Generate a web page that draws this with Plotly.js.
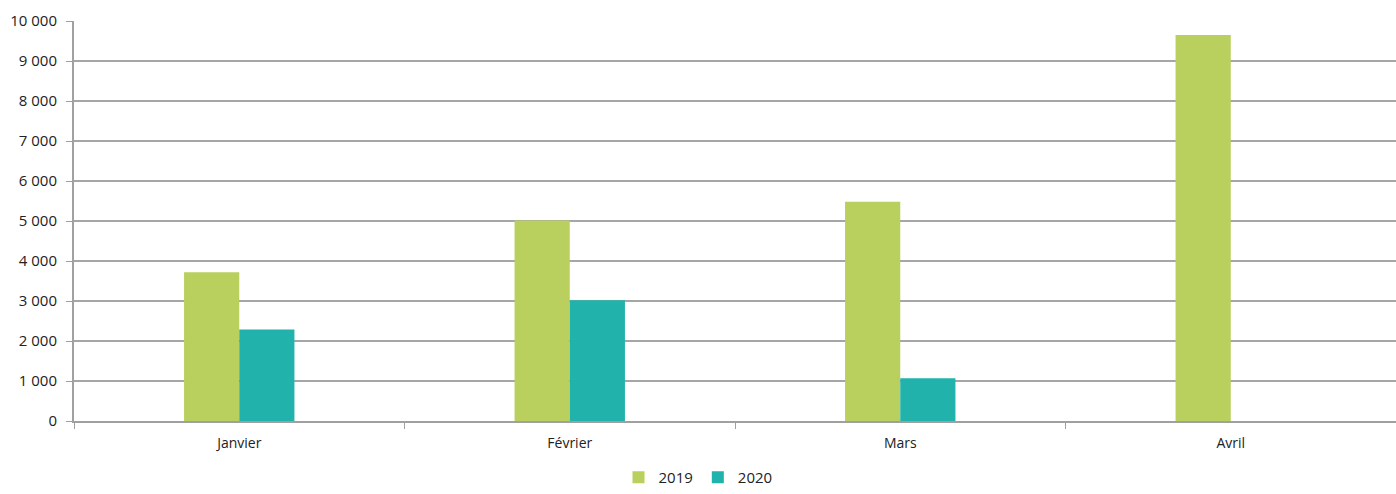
<!DOCTYPE html>
<html>
<head>
<meta charset="utf-8">
<script src="https://cdn.plot.ly/plotly-3.0.1.min.js"></script>
<style>html,body{margin:0;padding:0;background:#fff;}#chart{width:1396px;height:494px;}</style>
</head>
<body>
<div id="chart"></div>
<script>
const categories = ["Janvier", "Février", "Mars", "Avril"];
const values2019 = [3720, 5010, 5480, 9650];
const values2020 = [2290, 3020, 1070, null];
const seriesNames = ["2019", "2020"];
const yTickVals = [0, 1000, 2000, 3000, 4000, 5000, 6000, 7000, 8000, 9000, 10000];
const yTickText = ["0", "1 000", "2 000", "3 000", "4 000", "5 000", "6 000", "7 000", "8 000", "9 000", "10 000"];

const traces = [
  {type: "bar", name: seriesNames[0], x: categories, y: values2019, marker: {color: "#b9cf5e"}},
  {type: "bar", name: seriesNames[1], x: categories, y: values2020, marker: {color: "#22b2ac"}}
];

const layout = {
  width: 1396, height: 494,
  margin: {l: 74, r: 0, t: 21, b: 73},
  paper_bgcolor: "#fff", plot_bgcolor: "#fff",
  barmode: "group",
  bargap: 0.666,
  bargroupgap: 0,
  font: {family: "Open Sans, Liberation Sans, sans-serif", size: 14, color: "#222"},
  xaxis: {
    type: "category",
    showline: true, linecolor: "#a0a0a0", linewidth: 2,
    ticks: "outside", tickson: "boundaries", ticklen: 6, tickcolor: "#a0a0a0", tickwidth: 1,
    showgrid: false, zeroline: false,
    ticklabelstandoff: 8,
    tickfont: {size: 14, color: "#222"}
  },
  yaxis: {
    range: [0, 10000],
    tickvals: yTickVals, ticktext: yTickText,
    showline: true, linecolor: "#a0a0a0", linewidth: 2,
    ticks: "outside", ticklen: 6, tickcolor: "#a0a0a0", tickwidth: 1,
    showgrid: true, gridcolor: "#a6a6a6", gridwidth: 2,
    zeroline: false,
    ticklabelstandoff: 6,
    tickfont: {size: 15, color: "#222"}
  },
  showlegend: true,
  legend: {
    orientation: "h", x: 0.5, xanchor: "center", xref: "container",
    y: 0.0, yanchor: "bottom", yref: "container",
    font: {size: 15, color: "#222"}, itemwidth: 30, traceorder: "normal"
  }
};
Plotly.newPlot("chart", traces, layout, {displayModeBar: false, staticPlot: true});
</script>
</body>
</html>
